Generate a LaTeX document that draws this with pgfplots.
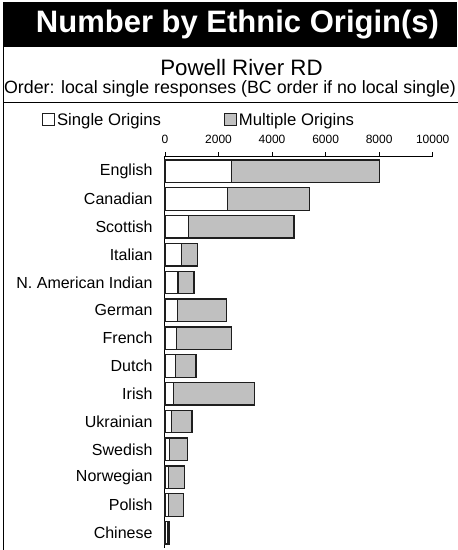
\documentclass[border=0pt]{standalone}
\usepackage{pgfplots}
\pgfplotsset{compat=1.18}
\usepackage{pgfplotstable}
\usepackage{fontspec}
\setmainfont{Liberation Sans}

\definecolor{bargray}{RGB}{192,192,192}
\definecolor{edge}{RGB}{30,30,30}

% idx, single responses, multiple responses
\pgfplotstableread{
idx single multiple
0   2475  5550
1   2340  3050
2   885   3930
3   610   600
4   485   600
5   475   1830
6   440   2040
7   390   770
8   315   3030
9   240   770
10  175   660
11  140   600
12  125   560
13  110   45
}\origins

\begin{document}
\begin{tikzpicture}
\useasboundingbox (0pt,0pt) rectangle (458pt,550pt);

% header bar and frame
\fill[black] (3pt,503pt) rectangle (457pt,548pt);
\node[text=white, font=\bfseries\fontsize{31}{33}\selectfont] at (237.5pt,525pt) {Number by Ethnic Origin(s)};
\draw[line width=1pt] (3.5pt,0pt) -- (3.5pt,503pt);
\draw[line width=0.8pt] (3.5pt,448pt) -- (458pt,448pt);
\node[font=\fontsize{22.3}{24}\selectfont] at (241.5pt,482pt) {Powell River RD};
\node[font=\fontsize{17.8}{19}\selectfont] at (230pt,461pt) {Order: local single responses (BC order if no local single)};

\begin{axis}[
  at={(165pt,2pt)}, anchor=south west,
  scale only axis,
  width=267.7pt, height=392pt,
  xbar stacked,
  bar width=22.5pt,
  xmin=0, xmax=10000,
  ymin=-0.55, ymax=13.55,
  y dir=reverse,
  axis x line*=top,
  axis y line*=left,
  axis line style={line width=1pt, black},
  xtick={0,2000,...,10000},
  xticklabel pos=top,
  xtick style={line width=0.8pt, black},
  major tick length=4pt,
  tick align=outside,
  scaled x ticks=false,
  xticklabel style={font=\fontsize{12}{13}\selectfont, yshift=5pt},
  /pgf/number format/assume math mode=true,
  /pgf/number format/1000 sep={},
  ytick={0,...,13},
  yticklabels={English,Canadian,Scottish,Italian,N. American Indian,German,French,Dutch,Irish,Ukrainian,Swedish,Norwegian,Polish,Chinese},
  yticklabel style={font=\fontsize{16}{17}\selectfont, xshift=-5pt},
  ytick style={draw=none},
  minor ytick={-0.5,0.5,...,13.5},
  minor tick length=3pt,
  minor y tick style={line width=0.8pt, black},
  legend columns=2,
  legend style={at={(-0.4595,1.092)}, anchor=west, draw=none, fill=none,
    font=\fontsize{16.7}{17}\selectfont, inner sep=0pt,
    /tikz/every even column/.append style={column sep=61pt}},
  legend cell align=left,
  legend image code/.code={\draw[#1, line width=0.9pt] (0pt,-6pt) rectangle (12pt,6pt);},
  clip=false,
]
\addplot[draw=edge, line width=1.3pt, fill=white] table[x=single, y=idx] {\origins};
\addlegendentry{Single Origins}
\addplot[draw=edge, line width=1.3pt, fill=bargray] table[x=multiple, y=idx] {\origins};
\addlegendentry{Multiple Origins}
\end{axis}
\end{tikzpicture}
\end{document}
